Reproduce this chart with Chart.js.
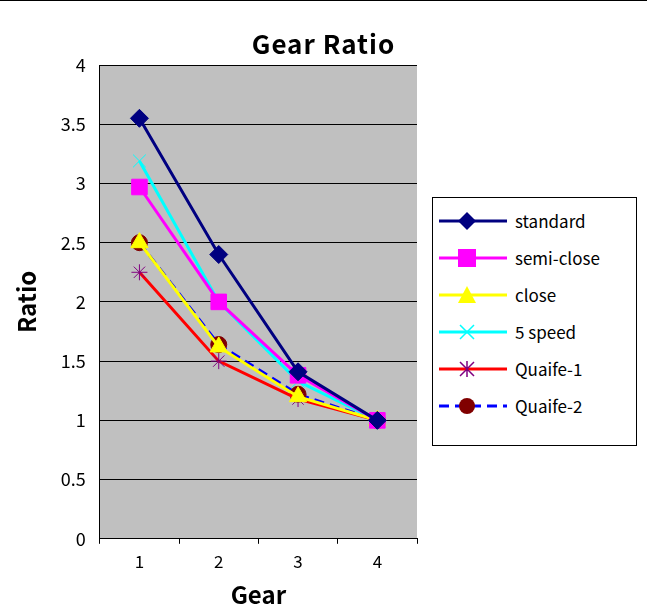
<!DOCTYPE html>
<html><head><meta charset="utf-8">
<script src="https://cdn.jsdelivr.net/npm/chart.js@4.4.0/dist/chart.umd.min.js"></script>
<style>
body{margin:0;background:#fff;font-family:"Noto Sans CJK JP",sans-serif}
#wrap{position:relative;width:647px;height:609px;border-top:1px solid #000;box-sizing:border-box}
#title{position:absolute;left:0;width:647px;top:24px;text-align:center;font-size:26px;font-weight:bold;line-height:36px;letter-spacing:1px}
#legend{position:absolute;left:432px;top:196px;width:205px;height:249px;border:1px solid #000;background:#fff;box-sizing:border-box;padding:4px 0 0 4px}
.row{display:flex;align-items:center;height:37px;font-size:17px}
.row svg{margin-right:6px}
</style></head><body>
<div id="wrap"><canvas id="c" width="647" height="608"></canvas><div id="title">Gear Ratio</div><div id="legend"></div></div>
<script>
const gears = ["1", "2", "3", "4"];
const standard = [3.55, 2.40, 1.41, 1.0];
const semiClose = [2.97, 2.00, 1.38, 1.0];
const close = [2.50, 1.62, 1.20, 1.0];
const fiveSpeed = [3.19, 2.00, 1.33, 1.0];
const quaife1 = [2.25, 1.50, 1.18, 1.0];
const quaife2 = [2.50, 1.64, 1.22, 1.0];

const series = [
  { label: "standard", data: standard, color: "#000080", style: "rectRot", r: 9, dash: [] },
  { label: "semi-close", data: semiClose, color: "#ff00ff", style: "rect", r: 11, dash: [] },
  { label: "close", data: close, color: "#ffff00", style: "triangle", r: 10, dash: [] },
  { label: "5 speed", data: fiveSpeed, color: "#00ffff", style: "cross", r: 9, dash: [], rot: 45 },
  { label: "Quaife-1", data: quaife1, color: "#ff0000", style: "star", r: 8, dash: [], pc: "#800080" },
  { label: "Quaife-2", data: quaife2, color: "#0000ff", style: "circle", r: 8, dash: [10, 6], pc: "#800000" }
];

const bg = {
  id: "bg",
  beforeDraw(chart) {
    const a = chart.chartArea, ctx = chart.ctx;
    ctx.save(); ctx.fillStyle = "#c0c0c0";
    ctx.fillRect(a.left, a.top, a.right - a.left, a.bottom - a.top);
    ctx.restore();
  }
};

new Chart(document.getElementById("c"), {
  type: "line",
  data: {
    labels: gears,
    datasets: series.map(s => ({
      label: s.label, data: s.data,
      borderColor: s.color, backgroundColor: s.pc || s.color,
      pointBorderColor: s.pc || s.color, pointBackgroundColor: s.pc || s.color,
      borderWidth: 3, borderDash: s.dash, pointStyle: s.style, pointRadius: s.r,
      pointRotation: s.rot || 0, pointBorderWidth: 1, tension: 0
    }))
  },
  options: {
    responsive: false, animation: false,
    layout: { padding: { right: 230, top: 64, bottom: 0, left: 6 } },
    plugins: {
      legend: { display: false },
      tooltip: { enabled: false }
    },
    scales: {
      x: {
        offset: true,
        grid: { offset: true, drawOnChartArea: false, color: "#000", tickLength: 5 },
        border: { color: "#000" },
        ticks: { color: "#000", font: { size: 17, family: "Noto Sans CJK JP" }, padding: 8 },
        title: { display: true, text: "Gear", color: "#000", font: { size: 24, weight: "bold", family: "Noto Sans CJK JP" }, padding: 0 }
      },
      y: {
        min: 0, max: 4,
        grid: { color: "#000", tickLength: 0 },
        border: { color: "#000" },
        ticks: { stepSize: 0.5, color: "#000", font: { size: 18, family: "Noto Sans CJK JP" }, padding: 14,
          callback: v => String(v) },
        title: { display: true, text: "Ratio", color: "#000", font: { size: 24, weight: "bold", family: "Noto Sans CJK JP" }, padding: 6 }
      }
    }
  },
  plugins: [bg]
});

function marker(s) {
  const c = s.pc || s.color, cx = 30, cy = 10;
  let m = "";
  if (s.style === "rectRot") m = `<polygon points="${cx},${cy-9} ${cx+9},${cy} ${cx},${cy+9} ${cx-9},${cy}" fill="${c}"/>`;
  else if (s.style === "rect") m = `<rect x="${cx-9}" y="${cy-9}" width="18" height="18" fill="${c}"/>`;
  else if (s.style === "triangle") m = `<polygon points="${cx},${cy-9} ${cx+9},${cy+8} ${cx-9},${cy+8}" fill="${c}"/>`;
  else if (s.style === "cross") m = `<path d="M${cx-7} ${cy-7}L${cx+7} ${cy+7}M${cx+7} ${cy-7}L${cx-7} ${cy+7}" stroke="${c}" stroke-width="1.5"/>`;
  else if (s.style === "star") m = `<path d="M${cx-7} ${cy-7}L${cx+7} ${cy+7}M${cx+7} ${cy-7}L${cx-7} ${cy+7}M${cx} ${cy-8}L${cx} ${cy+8}" stroke="${c}" stroke-width="1.5"/>`;
  else m = `<circle cx="${cx}" cy="${cy}" r="8" fill="${c}"/>`;
  return `<svg width="72" height="20"><line x1="2" y1="10" x2="70" y2="10" stroke="${s.color}" stroke-width="3" stroke-dasharray="${s.dash.join(',')}"/>${m}</svg>`;
}
document.getElementById("legend").innerHTML = series.map(s =>
  `<div class="row">${marker(s)}<span>${s.label}</span></div>`).join("");
</script>
</body></html>
